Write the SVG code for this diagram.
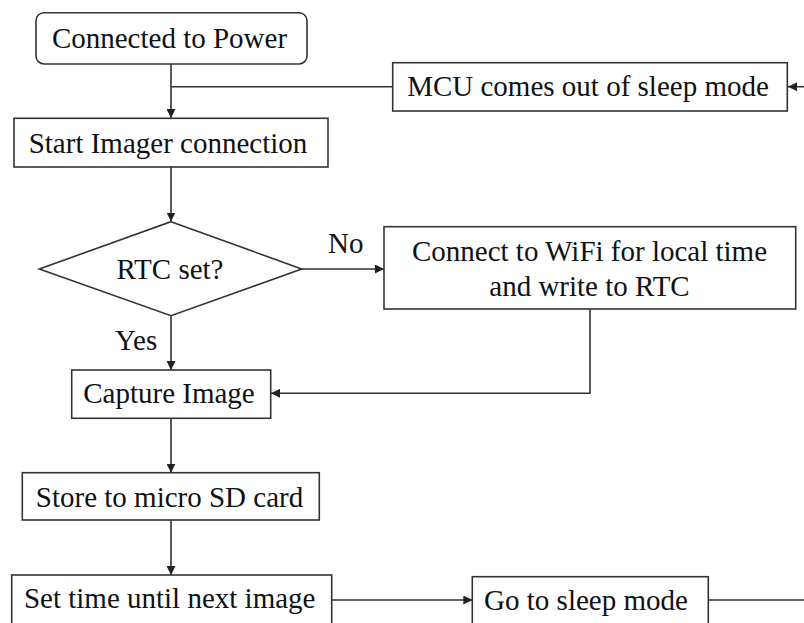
<svg xmlns="http://www.w3.org/2000/svg" width="804" height="623" viewBox="0 0 804 623">
<defs>
<style>
.box{fill:#fff;stroke:#333;stroke-width:1.6}
.t{font-size:29px;fill:#111;text-anchor:middle}
.lbl{font-size:29px;fill:#111}
.c{fill:none;stroke:#333;stroke-width:1.6}
</style>
<marker id="ah" viewBox="0 0 10 10" refX="10" refY="5" markerWidth="9" markerHeight="9" markerUnits="userSpaceOnUse" orient="auto">
<path d="M0,0 L10,5 L0,10 z" fill="#222"/>
</marker>
</defs>
<rect width="804" height="623" fill="#fff"/>
<g font-family="Liberation Serif, Times New Roman, serif">
<g id="connectors">
<line class="c" x1="171" y1="64" x2="171" y2="118" marker-end="url(#ah)"/>
<line class="c" x1="393" y1="86.7" x2="171" y2="86.7"/>
<line class="c" x1="804" y1="86.7" x2="788" y2="86.7" marker-end="url(#ah)"/>
<line class="c" x1="171" y1="167" x2="171" y2="221.5" marker-end="url(#ah)"/>
<line class="c" x1="301.5" y1="269" x2="384" y2="269" marker-end="url(#ah)"/>
<line class="c" x1="171" y1="315.5" x2="171" y2="370" marker-end="url(#ah)"/>
<polyline class="c" points="590,309 590,393.3 271,393.3" marker-end="url(#ah)"/>
<line class="c" x1="171" y1="418.3" x2="171" y2="472.7" marker-end="url(#ah)"/>
<line class="c" x1="171" y1="520" x2="171" y2="575" marker-end="url(#ah)"/>
<line class="c" x1="331.7" y1="600" x2="472.3" y2="600" marker-end="url(#ah)"/>
<line class="c" x1="708.3" y1="600" x2="804" y2="600"/>
<text class="lbl" x="328" y="253">No</text>
<text class="lbl" x="115" y="350">Yes</text>
</g>
<g id="n-power">
<rect class="box" x="36" y="12.7" width="271" height="51.3" rx="8"/>
<text class="t" x="169.5" y="48">Connected to Power</text>
</g>
<g id="n-mcu">
<rect class="box" x="392.7" y="62.7" width="394.6" height="48.3"/>
<text class="t" x="588" y="96">MCU comes out of sleep mode</text>
</g>
<g id="n-imager">
<rect class="box" x="14" y="118.3" width="314" height="48.7"/>
<text class="t" x="168" y="153">Start Imager connection</text>
</g>
<g id="n-rtc">
<polygon class="box" points="171,221.7 301.7,269 171,315.7 39.3,269"/>
<text class="t" x="170" y="279.3">RTC set?</text>
</g>
<g id="n-wifi">
<rect class="box" x="384" y="226.7" width="411.7" height="82.3"/>
<text class="t" x="589.5" y="260.7">Connect to WiFi for local time</text>
<text class="t" x="589.5" y="296">and write to RTC</text>
</g>
<g id="n-capture">
<rect class="box" x="71.7" y="370" width="199" height="48.3"/>
<text class="t" x="169" y="403">Capture Image</text>
</g>
<g id="n-store">
<rect class="box" x="22.3" y="472.7" width="297" height="47.3"/>
<text class="t" x="169.5" y="506.7">Store to micro SD card</text>
</g>
<g id="n-settime">
<rect class="box" x="11.7" y="575" width="320" height="52"/>
<text class="t" x="169.7" y="608.3">Set time until next image</text>
</g>
<g id="n-sleep">
<rect class="box" x="472.3" y="576.7" width="236" height="52"/>
<text class="t" x="586" y="610">Go to sleep mode</text>
</g>
</g>
</svg>
